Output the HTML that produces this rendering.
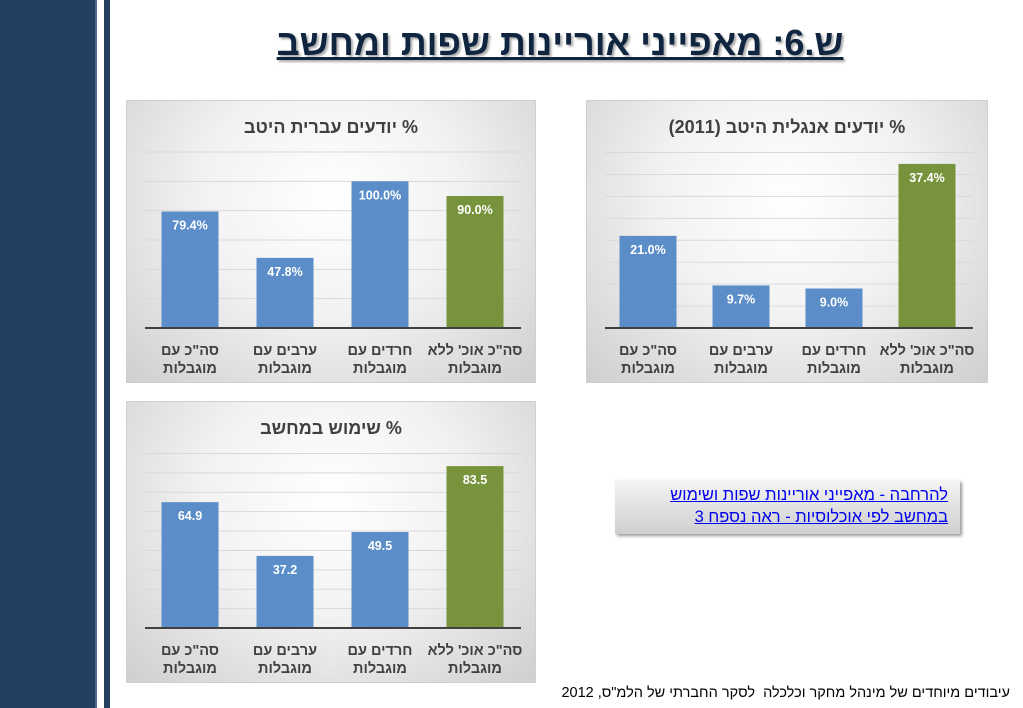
<!DOCTYPE html>
<html><head><meta charset="utf-8">
<style>
body{margin:0;width:1023px;height:708px;background:#fff;position:relative;overflow:hidden;font-family:"Liberation Sans","Noto Sans CJK JP",sans-serif}
.side1{position:absolute;left:0;top:0;width:95px;height:708px;background:#243f60;border-right:2px solid #4a6a94}
.side2{position:absolute;left:104px;top:0;width:6px;height:708px;background:#243f60}
.title{position:absolute;left:150px;width:820px;top:22px;text-align:center;font-size:36px;font-weight:bold;color:#0f2540;text-decoration:underline;text-shadow:2px 2px 2px #aaa;direction:rtl}
.chart{position:absolute;background:radial-gradient(ellipse at 50% 35%,#ffffff 0%,#f2f2f2 45%,#cfcfcf 100%);border:1px solid #d0d0d0}
.link{position:absolute;left:615px;top:480px;width:345px;height:54px;background:linear-gradient(#f4f4f4,#cfcfcf);box-shadow:2px 2px 3px #999;direction:rtl;text-align:right;font-size:16.5px;line-height:22px;color:#0000ee;text-decoration:underline;box-sizing:border-box;padding:4px 12px 0 0}
.foot{position:absolute;right:13px;top:685px;font-size:14.5px;direction:rtl;color:#000}
</style></head><body>
<div class="side1"></div>
<div class="side2"></div>
<div class="title">ש.6: מאפייני אוריינות שפות ומחשב</div>
<svg class="chart" id="c1" style="left:126px;top:100px" width="408" height="281"></svg>
<svg class="chart" id="c2" style="left:586px;top:100px" width="400" height="281"></svg>
<svg class="chart" id="c3" style="left:126px;top:401px" width="408" height="280"></svg>
<div class="link">להרחבה - מאפייני אוריינות שפות ושימוש<br>במחשב לפי אוכלוסיות - ראה נספח 3</div>
<div class="foot">עיבודים מיוחדים של מינהל מחקר וכלכלה &nbsp;לסקר החברתי של הלמ"ס, 2012</div>
<script>
const categoriesLine1 = ['סה"כ עם','ערבים עם','חרדים עם',"סה\"כ אוכ' ללא"];
const categoriesLine2 = ['מוגבלות','מוגבלות','מוגבלות','מוגבלות'];
const hebrewValues = [79.4, 47.8, 100.0, 90.0];
const hebrewLabels = ['79.4%','47.8%','100.0%','90.0%'];
const hebrewTicks = [0,20,40,60,80,100,120];
const englishValues = [21.0, 9.7, 9.0, 37.4];
const englishLabels = ['21.0%','9.7%','9.0%','37.4%'];
const englishTicks = [0,5,10,15,20,25,30,35,40];
const computerValues = [64.9, 37.2, 49.5, 83.5];
const computerLabels = ['64.9','37.2','49.5','83.5'];
const computerTicks = [0,10,20,30,40,50,60,70,80,90];

const NS='http://www.w3.org/2000/svg';
function mk(svg,tag,attrs){const e=document.createElementNS(NS,tag);for(const k in attrs)e.setAttribute(k,attrs[k]);svg.appendChild(e);return e;}
function draw(id,title,vals,labels,ticks,base,topY,x0,step,w,name){
  const svg=document.getElementById(id);
  const W=+svg.getAttribute('width');
  const maxT=ticks[ticks.length-1];
  const y=v=>base-(v/maxT)*(base-topY);
  const x=i=>x0+i*step;
  const t=mk(svg,'text',{x:W/2,y:32,'text-anchor':'middle','font-size':18,'font-weight':'bold',fill:'#404040',direction:'rtl'});
  t.textContent=title;
  
  
  ticks.forEach(tv=>{
    if(tv===0)return;
    const g=mk(svg,'line',{x1:18,x2:W-14,y1:y(tv),y2:y(tv),stroke:'#d9d9d9','stroke-width':1});
    
    
  });
  vals.forEach((v,i)=>{
    const r=mk(svg,'rect',{x:x(i)-w/2,y:y(v),width:w,height:base-y(v),fill:i===3?'#77933c':'#5b8ec8'});
    
    
    const l=mk(svg,'text',{x:x(i),y:y(v)+18,'text-anchor':'middle','font-size':12.5,'font-weight':'bold',fill:'#fff'});
    l.textContent=labels[i];
    
    
    const c1=mk(svg,'text',{x:x(i),y:base+27,'text-anchor':'middle','font-size':14.5,'font-weight':'bold',fill:'#404040',direction:'rtl'});
    c1.textContent=categoriesLine1[i];
    
    
    const c2=mk(svg,'text',{x:x(i),y:base+45,'text-anchor':'middle','font-size':14.5,'font-weight':'bold',fill:'#404040',direction:'rtl'});
    c2.textContent=categoriesLine2[i];
    
    
  });
  const ax=mk(svg,'line',{x1:18,x2:W-14,y1:base,y2:base,stroke:'#404040','stroke-width':2});
  
  
}
draw('c1','% יודעים עברית היטב',hebrewValues,hebrewLabels,hebrewTicks,227,51,63,95,57,'hebrew');
draw('c2','% יודעים אנגלית היטב (2011)',englishValues,englishLabels,englishTicks,227,51.5,61,93,57,'english');
draw('c3','% שימוש במחשב',computerValues,computerLabels,computerTicks,226,51.5,63,95,57,'computer');
</script>
</body></html>
